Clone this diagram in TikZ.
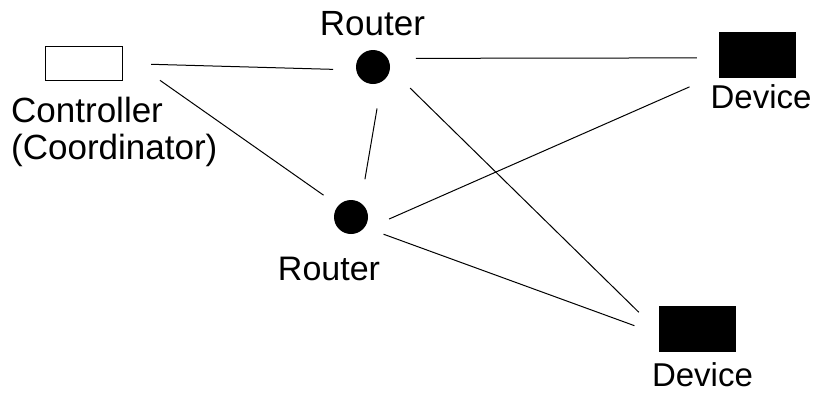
\documentclass[tikz,border=0pt]{standalone}
\usepackage{fontspec}
\setmainfont{Liberation Sans}
\begin{document}
\begin{tikzpicture}[x=1pt,y=-1pt,
  ctrlbox/.style={draw=black,line width=1.3pt,fill=white,inner sep=0pt,minimum width=77pt,minimum height=34pt},
  devbox/.style={draw=black,fill=black,inner sep=0pt,minimum width=76pt,minimum height=45pt},
  routerdot/.style={circle,fill=black,inner sep=0pt,minimum size=34pt},
  lbl/.style={inner sep=0pt,font=\fontsize{35}{37}\selectfont},
  lblb/.style={inner sep=0pt,font=\fontsize{34}{36}\selectfont},
  lbld/.style={inner sep=0pt,text depth=0pt,font=\fontsize{33}{35}\selectfont},
  link/.style={line width=1pt,black}]
\useasboundingbox (0,0) rectangle (816,392);
% nodes
\node[ctrlbox] (ctrl) at (84,63.5) {};
\node[routerdot] (r1) at (373,67) {};
\node[routerdot] (r2) at (351,217) {};
\node[devbox] (d1) at (757,54.5) {};
\node[devbox] (d2) at (697,328.5) {};
% labels
\node[lbl,anchor=base] (r1lbl) at (372.5,35) {Router};
\node[lbl,anchor=base west] (ctrllbl1) at (11,122) {Controller};
\node[lbl,anchor=base west] (ctrllbl2) at (11,159) {(Coordinator)};
\node[lblb,anchor=base] (r2lbl) at (329,280) {Router};
\node[lbld,anchor=base] (d1lbl) at (761,108) {Device};
\node[lbld,anchor=base] (d2lbl) at (702.5,386) {Device};
% links
\draw[link,shorten <=28pt,shorten >=23pt] (ctrl.east) -- (r1.190);
\draw[link,shorten <=45pt,shorten >=18pt] (ctrl.13) -- (r2.138);
\draw[link,shorten <=27pt,shorten >=24pt] (r1.-60) -- (r2.55);
\draw[link,shorten <=28pt,shorten >=22pt] (r1.30) -- (d1.185);
\draw[link,shorten <=28pt,shorten >=28pt] (r1.-5) -- (d2.185);
\draw[link,shorten <=34pt,shorten >=32pt] (r2.-66) -- (d1.207);
\draw[link,shorten <=20pt,shorten >=26pt] (r2.-37) -- (d2.189);
\end{tikzpicture}
\end{document}
